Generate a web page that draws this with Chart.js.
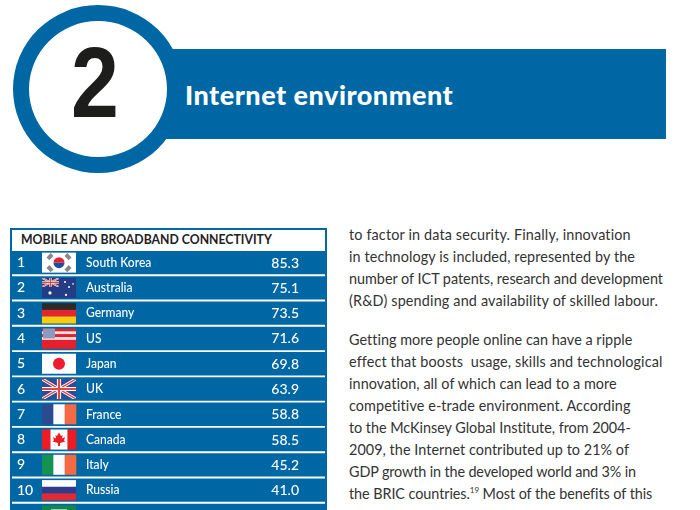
<!DOCTYPE html>
<html><head><meta charset="utf-8">
<script src="https://cdn.jsdelivr.net/npm/chart.js@4"></script>
<style>
html,body{margin:0;padding:0;background:#fff;overflow:hidden}
#page{position:relative;width:700px;height:510px;overflow:hidden;background:#fff;font-family:Lato,sans-serif}
.band{position:absolute;left:150px;top:48.5px;width:516px;height:90px;background:#0067a5}
.ring{position:absolute;left:12.5px;top:5px;width:138px;height:136px;border:16px solid #0067a5;background:#fff;border-radius:50%}
.num{position:absolute;left:71px;top:26px;width:46px;font:700 100px/112px "Liberation Sans",sans-serif;color:#1d1d1b;transform:scaleX(.86);transform-origin:left top}
.title{position:absolute;left:185px;top:76px;font:900 27px/38px Lato,sans-serif;color:#fff;white-space:pre;letter-spacing:.5px}
.tbl{position:absolute;left:10px;top:228px;width:317px;height:290px;background:#0067a5}
.tbl i{position:absolute;left:2px;top:2px;width:313px;height:288px;background:#fff;display:block}
.thead{position:absolute;left:21px;top:231px;font:700 12.25px/17px Lato,sans-serif;color:#222;white-space:pre}
canvas{position:absolute;left:0;top:0}
.l{position:absolute;left:349px;font:14.4px/20px Lato,sans-serif;color:#333;white-space:pre}
sup{font-size:8px;line-height:0}
</style></head><body>
<div id="page">
<div class="band"></div><div class="ring"></div><div class="num">2</div>
<div class="title">Internet environment</div>
<div class="tbl"><i></i></div>
<div class="thead">MOBILE AND BROADBAND CONNECTIVITY</div>
<div id="body"></div>
<canvas id="c" width="700" height="540"></canvas>
</div>
<script>
const ranks = ['1','2','3','4','5','6','7','8','9','10','11'];
const countries = ['South Korea','Australia','Germany','US','Japan','UK','France','Canada','Italy','Russia',''];
const scores = [85.3,75.1,73.5,71.6,69.8,63.9,58.8,58.5,45.2,41.0,null];
const flagCodes = ['kr','au','de','us','jp','gb','fr','ca','it','ru','sa'];
const bodyLines = [
 [225,'to factor in data security. Finally, innovation',631],
 [247,'in technology is included, represented by the',635],
 [269,'number of ICT patents, research and development',663],
 [291,'(R&amp;D) spending and availability of skilled labour.',658],
 [330,'Getting more people online can have a ripple',632],
 [352,'effect that boosts  usage, skills and technological',662],
 [374,'innovation, all of which can lead to a more',617],
 [396,'competitive e-trade environment. According',631],
 [418,'to the McKinsey Global Institute, from 2004-',631],
 [440,'2009, the Internet contributed up to 21% of',629],
 [462,'GDP growth in the developed world and 3% in',636],
 [484,'the BRIC countries.<sup>19</sup> Most of the benefits of this',652]
];
const bodyEl=document.getElementById('body');
bodyEl.innerHTML = bodyLines.map(l=>`<div class="l" style="top:${l[0]}px">${l[1]}</div>`).join('');
[...bodyEl.children].forEach((el,i)=>{
  const w=el.getBoundingClientRect().width, n=el.textContent.length;
  el.style.letterSpacing=((bodyLines[i][2]-349-w)/n).toFixed(3)+'px';
});

const BLUE='#0067a5', W=34, H=20;
function stripesH(c,x,y,cols){const h=H/cols.length;cols.forEach((k,i)=>{c.fillStyle=k;c.fillRect(x,y+i*h,W,h+.3)})}
function stripesV(c,x,y,cols){const w=W/cols.length;cols.forEach((k,i)=>{c.fillStyle=k;c.fillRect(x+i*w,y,w+.3,H)})}
function jack(c,x,y,w,h,lw){
  c.save();c.beginPath();c.rect(x,y,w,h);c.clip();
  const line=(a,b,d,e,col,t)=>{c.strokeStyle=col;c.lineWidth=t;c.beginPath();c.moveTo(a,b);c.lineTo(d,e);c.stroke()};
  line(x,y,x+w,y+h,'#fff',lw);line(x+w,y,x,y+h,'#fff',lw);
  line(x,y,x+w,y+h,'#e5453c',lw*.45);line(x+w,y,x,y+h,'#e5453c',lw*.45);
  line(x+w/2,y,x+w/2,y+h,'#fff',lw*1.3);line(x,y+h/2,x+w,y+h/2,'#fff',lw*1.3);
  line(x+w/2,y,x+w/2,y+h,'#e5453c',lw*.7);line(x,y+h/2,x+w,y+h/2,'#e5453c',lw*.7);
  c.restore();
}
const flags={
 de:(c,x,y)=>stripesH(c,x,y,['#2b2b2b','#e3262b','#f8cd0f']),
 ru:(c,x,y)=>stripesH(c,x,y,['#fbfbfb','#2f3c8c','#e02b35']),
 fr:(c,x,y)=>stripesV(c,x,y,['#2c4a8f','#fbfbfb','#f26b44']),
 it:(c,x,y)=>stripesV(c,x,y,['#14924f','#fbfbfb','#f26b44']),
 jp:(c,x,y)=>{c.fillStyle='#fff';c.fillRect(x,y,W,H);c.fillStyle='#ed1c2e';c.beginPath();c.arc(x+W/2,y+H/2,6,0,7);c.fill()},
 kr:(c,x,y)=>{c.fillStyle='#fff';c.fillRect(x,y,W,H);const cx=x+W/2,cy=y+H/2;
   c.fillStyle='#e8212e';c.beginPath();c.arc(cx,cy,5.5,Math.PI,0);c.fill();
   c.fillStyle='#1d4f9c';c.beginPath();c.arc(cx,cy,5.5,0,Math.PI);c.fill();
   c.fillStyle='#888';[[-9,-6],[9,-6],[-9,6],[9,6]].forEach(([a,b])=>{c.save();c.translate(cx+a,cy+b);c.rotate(a*b>0?-.8:.8);c.fillRect(-3,-2,6,4);c.restore()})},
 au:(c,x,y)=>{c.fillStyle='#243b85';c.fillRect(x,y,W,H);jack(c,x,y,17,9,1.8);c.fillStyle='#fff';
   [[8,15,1.6],[23,4,1],[27,9,1],[31,6,.8],[24,17,1.1]].forEach(([a,b,r])=>{c.beginPath();c.arc(x+a,y+b,r,0,7);c.fill()})},
 us:(c,x,y)=>{for(let i=0;i<7;i++){c.fillStyle=i%2?'#f8dcdc':'#e3202c';c.fillRect(x,y+i*H/7,W,H/7+.3)}
   c.fillStyle='#e3202c';c.fillRect(x,y+12,W,8);c.fillStyle='#8d9ac0';c.fillRect(x+1,y,12,10)},
 gb:(c,x,y)=>{c.fillStyle='#2d4c9b';c.fillRect(x,y,W,H);jack(c,x,y,W,H,3.2)},
 ca:(c,x,y)=>{stripesV(c,x,y,['#ed1c24','#fff','#fff','#ed1c24']);const cx=x+W/2,cy=y+H/2;c.fillStyle='#ed1c24';
   const p=[[0,-7],[2,-3.5],[3.5,-4.5],[3,-1],[6,-2.5],[5,1],[6.5,2],[1,3.5],[1,6.5],[-1,6.5],[-1,3.5],[-6.5,2],[-5,1],[-6,-2.5],[-3,-1],[-3.5,-4.5],[-2,-3.5]];
   c.beginPath();p.forEach(([a,b],i)=>i?c.lineTo(cx+a,cy+b):c.moveTo(cx+a,cy+b));c.closePath();c.fill()},
 sa:(c,x,y)=>{c.fillStyle='#14864f';c.fillRect(x,y,W,H);c.fillStyle='#dfe';c.fillRect(x+9,y+4,16,3)}
};
const tablePlugin={id:'tablePlugin',afterDatasetsDraw(ch){
  const c=ch.ctx,ys=ch.scales.y,xs=ch.scales.x;
  c.save();c.textBaseline='middle';
  ranks.forEach((r,i)=>{
    const cy=ys.getPixelForValue(i);
    flags[flagCodes[i]](c,xs.getPixelForValue(30),cy-H/2);
    c.fillStyle='#fff';c.font='500 13.4px Lato,sans-serif';c.textAlign='left';
    c.save();c.translate(xs.getPixelForValue(74),cy);c.scale(.9,1);c.fillText(countries[i],0,0);c.restore();
    if(scores[i]!=null){c.font='500 14px Lato,sans-serif';c.textAlign='right';c.fillText(scores[i].toFixed(1),xs.getPixelForValue(287),cy+.5)}
  });
  c.restore();
}};
new Chart(document.getElementById('c'),{
  type:'bar',
  data:{labels:ranks,datasets:[{data:ranks.map(()=>[0,313]),backgroundColor:BLUE,borderWidth:0,barPercentage:1,categoryPercentage:.924}]},
  plugins:[tablePlugin],
  options:{indexAxis:'y',responsive:false,animation:false,devicePixelRatio:1,
    layout:{padding:{left:12,right:375,top:250,bottom:12}},
    plugins:{legend:{display:false},tooltip:{enabled:false},title:{display:false}},
    scales:{
      x:{type:'linear',min:0,max:313,display:false},
      y:{type:'category',display:true,offset:true,grid:{display:false},border:{display:false},
        afterFit(s){s.width=0;s.paddingTop=0;s.paddingBottom=0},
        ticks:{mirror:true,padding:5,z:2,autoSkip:false,color:'#fff',font:{family:'Lato',size:14,weight:'500'}}}
    }}
});
</script>
</body></html>
